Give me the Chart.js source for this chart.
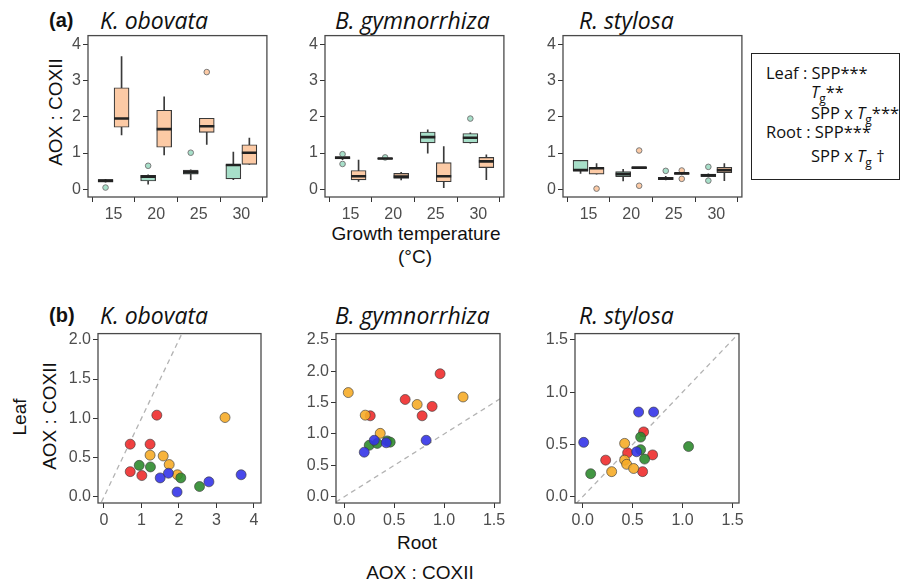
<!DOCTYPE html>
<html>
<head>
<meta charset="utf-8">
<script src="https://cdn.jsdelivr.net/npm/chart.js@4.4.1/dist/chart.umd.min.js"></script>
<style>
  body { margin: 0; background: #fff; }
  #fig { position: relative; width: 901px; height: 583px; overflow: hidden; background: #fff;
         font-family: "Liberation Sans", Arial, sans-serif; color: #111; }
  #fig canvas { position: absolute; }
  .txt { position: absolute; white-space: nowrap; line-height: 1; transform: translateY(-50%); }
  .ctr { transform: translate(-50%, -50%); }
  .rot { width: 200px; height: 20px; line-height: 20px; text-align: center; transform: rotate(-90deg); }
  .sp { font-family: "Open Sans", sans-serif; font-style: italic; font-size: 23px; }
  .tag { font-weight: bold; font-size: 20px; }
  .ax { font-size: 19px; }
  #legend { position: absolute; left: 751px; top: 53px; width: 147px; height: 125px; border: 1.5px solid #222; }
  .lg { font-family: "Open Sans", sans-serif; font-size: 16.5px; }
  .lg sub { font-size: 12px; vertical-align: baseline; position: relative; top: 0.4em; line-height: 0; }
</style>
</head>
<body>
<div id="fig">
  <div class="txt tag" style="left:49px; top:20px">(a)</div>
  <div class="txt sp" style="left:100px; top:20px">K. obovata</div>
  <div class="txt sp" style="left:335px; top:20px">B. gymnorrhiza</div>
  <div class="txt sp" style="left:579px; top:20px">R. stylosa</div>
  <div class="txt ax rot" style="left:-44px; top:102px">AOX : COXII</div>
  <div class="txt ax ctr" style="left:416px; top:233px">Growth temperature</div>
  <div class="txt ax ctr" style="left:415px; top:256px">(°C)</div>

  <div class="txt tag" style="left:49px; top:315px">(b)</div>
  <div class="txt sp" style="left:100px; top:315px">K. obovata</div>
  <div class="txt sp" style="left:335px; top:315px">B. gymnorrhiza</div>
  <div class="txt sp" style="left:579px; top:315px">R. stylosa</div>
  <div class="txt ax rot" style="left:-80px; top:407px">Leaf</div>
  <div class="txt ax rot" style="left:-50px; top:406px">AOX : COXII</div>
  <div class="txt ax ctr" style="left:417px; top:542px">Root</div>
  <div class="txt ax ctr" style="left:420px; top:572px">AOX : COXII</div>

  <div id="legend"></div>
  <div class="txt lg" style="left:766px; top:73px">Leaf : SPP***</div>
  <div class="txt lg" style="left:811px; top:92px"><i>T</i><sub>g</sub>**</div>
  <div class="txt lg" style="left:811px; top:113px">SPP x <i>T</i><sub>g</sub>***</div>
  <div class="txt lg" style="left:766px; top:132px">Root : SPP***</div>
  <div class="txt lg" style="left:811px; top:156px">SPP x <i>T</i><sub>g</sub> †</div>
</div>
<script>
// ---- (a) box plots: growth temperature vs AOX : COXII
const temps = [15, 20, 25, 30]
const boxTicksX = [15, 20, 25, 30]
const boxTicksY = [0, 1, 2, 3, 4]

// per temperature: [lower whisker, q1, median, q3, upper whisker]
const koLeaf = [[0.20, 0.20, 0.24, 0.27, 0.28], [0.14, 0.23, 0.35, 0.39, 0.40], [0.27, 0.42, 0.47, 0.53, 0.54], [0.27, 0.29, 0.67, 0.68, 1.03]]
const koRoot = [[1.50, 1.71, 1.95, 2.80, 3.66], [0.95, 1.16, 1.66, 2.18, 2.55], [1.24, 1.57, 1.74, 1.96, 1.96], [0.69, 0.69, 1.01, 1.23, 1.41]]
const koLeafOut = [[0.05], [0.65], [1.01], []]
const koRootOut = [[], [], [3.23], []]

const bgLeaf = [[0.82, 0.84, 0.87, 0.90, 0.91], [0.82, 0.83, 0.85, 0.86, 0.87], [1.00, 1.28, 1.44, 1.58, 1.64], [1.27, 1.28, 1.42, 1.54, 1.56]]
const bgRoot = [[0.22, 0.26, 0.36, 0.52, 0.81], [0.26, 0.30, 0.35, 0.44, 0.47], [0.05, 0.21, 0.36, 0.74, 1.18], [0.27, 0.60, 0.77, 0.88, 0.95]]
const bgLeafOut = [[0.97, 0.70], [0.88], [], [1.95]]
const bgRootOut = [[], [], [], []]

const rsLeaf = [[0.44, 0.51, 0.53, 0.80, 0.80], [0.23, 0.35, 0.42, 0.49, 0.55], [0.26, 0.27, 0.30, 0.33, 0.36], [0.34, 0.35, 0.39, 0.42, 0.43]]
const rsRoot = [[0.42, 0.42, 0.58, 0.60, 0.71], [0.58, 0.58, 0.60, 0.61, 0.61], [0.41, 0.42, 0.44, 0.45, 0.46], [0.24, 0.46, 0.53, 0.61, 0.71]]
const rsLeafOut = [[], [], [0.51], [0.62, 0.24]]
const rsRootOut = [[0.02], [0.10, 1.07], [0.29, 0.52], []]

// ---- (b) leaf vs root scatter, one list per growth temperature: [root, leaf]
const ko15 = [[1.50, 0.24], [1.72, 0.30], [1.95, 0.06], [2.80, 0.19], [3.66, 0.28]]
const ko20 = [[0.94, 0.40], [1.24, 0.38], [2.05, 0.24], [2.55, 0.13]]
const ko25 = [[3.23, 1.01], [1.23, 0.53], [1.58, 0.52], [1.74, 0.41], [1.96, 0.28]]
const ko30 = [[0.70, 0.67], [1.41, 1.04], [1.23, 0.67], [0.70, 0.32], [1.01, 0.27]]

const bg15 = [[0.20, 0.71], [0.30, 0.90], [0.42, 0.86], [0.82, 0.90]]
const bg20 = [[0.25, 0.82], [0.33, 0.85], [0.43, 0.89], [0.46, 0.87]]
const bg25 = [[0.04, 1.66], [0.21, 1.30], [0.36, 1.01], [0.73, 1.47], [1.19, 1.59]]
const bg30 = [[0.26, 1.29], [0.61, 1.55], [0.78, 1.29], [0.88, 1.44], [0.96, 1.96]]

const rs15 = [[0.01, 0.52], [0.56, 0.81], [0.71, 0.81], [0.54, 0.43]]
const rs20 = [[0.08, 0.22], [0.58, 0.57], [0.58, 0.45], [0.62, 0.36], [1.06, 0.48]]
const rs25 = [[0.42, 0.51], [0.42, 0.35], [0.44, 0.31], [0.29, 0.24], [0.51, 0.27]]
const rs30 = [[0.23, 0.35], [0.45, 0.42], [0.61, 0.62], [0.70, 0.40], [0.60, 0.24]]

const oneToOne = [[-1, -1], [5, 5]]

const leafFill = "#a7dfc9"
const rootFill = "#fccaa5"
const tempColors = ["rgba(52,52,232,0.9)", "rgba(46,139,46,0.9)", "rgba(246,172,40,0.9)", "rgba(238,44,44,0.9)"]
const dodge = 0.94

// frame around the plotting area (ggplot panel border)
const panelFrame = {
  id: "panelFrame",
  afterDraw(chart) {
    const { ctx, chartArea: a } = chart
    ctx.save()
    ctx.strokeStyle = "#4a4a4a"
    ctx.lineWidth = 1.3
    ctx.strokeRect(a.left, a.top, a.right - a.left, a.bottom - a.top)
    ctx.restore()
  }
}

function makeCanvas(rect) {
  const c = document.createElement("canvas")
  const w = rect.r - rect.l + 60
  const h = rect.b - rect.t + 45
  c.width = w
  c.height = h
  c.style.left = (rect.l - 50) + "px"
  c.style.top = (rect.t - 10) + "px"
  c.style.width = w + "px"
  c.style.height = h + "px"
  document.getElementById("fig").appendChild(c)
  return c
}

function axis(min, max, tickValues, fmt, isY) {
  return {
    type: "linear",
    min: min,
    max: max,
    offset: false,
    stacked: false,
    afterBuildTicks: s => { s.ticks = tickValues.map(v => ({ value: v })) },
    afterFit: s => { if (isY) s.width = 50; else s.height = 35 },
    border: { display: false },
    grid: { drawOnChartArea: false, drawTicks: true, tickLength: 5, color: "#333", lineWidth: 1 },
    ticks: {
      padding: isY ? 2 : 3,
      color: "#4d4d4d",
      font: { family: "'Liberation Sans', Arial, sans-serif", size: 16 },
      callback: v => fmt(v)
    }
  }
}

function boxSets(stats, outliers, side, fill) {
  const xs = temps.map(t => t + side * dodge)
  const outPts = []
  outliers.forEach((list, i) => list.forEach(v => outPts.push({ x: xs[i], y: v })))
  return [
    { type: "bar", order: 4, grouped: false, barThickness: 1, backgroundColor: "#3a3a3a",
      data: xs.map((x, i) => ({ x: x, y: [stats[i][0], stats[i][4]] })) },
    { type: "bar", order: 3, grouped: false, barThickness: 15, backgroundColor: fill,
      borderColor: "#3a3a3a", borderWidth: 1.2, borderSkipped: false,
      data: xs.map((x, i) => ({ x: x, y: [stats[i][1], stats[i][3]] })) },
    { type: "scatter", order: 1, pointStyle: "line", pointRadius: 7.5, borderColor: "#222", borderWidth: 2.6,
      data: xs.map((x, i) => ({ x: x, y: stats[i][2] })) },
    { type: "scatter", order: 2, pointRadius: 2.8, backgroundColor: fill, borderColor: "#7a7a7a", borderWidth: 1,
      data: outPts }
  ]
}

function boxPanel(rect, leaf, root, leafOut, rootOut) {
  new Chart(makeCanvas(rect), {
    type: "bar",
    data: { datasets: boxSets(leaf, leafOut, -1, leafFill).concat(boxSets(root, rootOut, 1, rootFill)) },
    options: {
      responsive: false,
      animation: false,
      layout: { padding: { top: 10, right: 10, left: 0, bottom: 0 } },
      plugins: { legend: { display: false }, tooltip: { enabled: false } },
      scales: {
        x: axis(12, 33, boxTicksX, v => String(v), false),
        y: axis(-0.21, 4.235, boxTicksY, v => String(v), true)
      }
    },
    plugins: [panelFrame]
  })
}

function scatterPanel(rect, groups, xr, yr, xt, yt) {
  const sets = groups.map((g, i) => ({
    data: g.map(p => ({ x: p[0], y: p[1] })),
    pointRadius: 5,
    backgroundColor: tempColors[i],
    borderColor: "rgba(60,60,60,0.8)",
    borderWidth: 0.8
  }))
  sets.unshift({
    data: oneToOne.map(p => ({ x: p[0], y: p[1] })),
    showLine: true,
    pointRadius: 0,
    borderColor: "#b3b3b3",
    borderWidth: 1.3,
    borderDash: [5, 4],
    order: 10
  })
  new Chart(makeCanvas(rect), {
    type: "scatter",
    data: { datasets: sets },
    options: {
      responsive: false,
      animation: false,
      layout: { padding: { top: 10, right: 10, left: 0, bottom: 0 } },
      plugins: { legend: { display: false }, tooltip: { enabled: false } },
      scales: {
        x: axis(xr[0], xr[1], xt, v => (Number.isInteger(xt[1]) ? String(v) : v.toFixed(1)), false),
        y: axis(yr[0], yr[1], yt, v => v.toFixed(1), true)
      }
    },
    plugins: [panelFrame]
  })
}

boxPanel({ l: 88, t: 34, r: 267, b: 197 }, koLeaf, koRoot, koLeafOut, koRootOut)
boxPanel({ l: 325, t: 34, r: 504, b: 197 }, bgLeaf, bgRoot, bgLeafOut, bgRootOut)
boxPanel({ l: 563, t: 34, r: 742, b: 197 }, rsLeaf, rsRoot, rsLeafOut, rsRootOut)

scatterPanel({ l: 98, t: 332, r: 261, b: 503 }, [ko15, ko20, ko25, ko30], [-0.16, 4.19], [-0.08, 2.08], [0, 1, 2, 3, 4], [0, 0.5, 1, 1.5, 2])
scatterPanel({ l: 336, t: 332, r: 500, b: 503 }, [bg15, bg20, bg25, bg30], [-0.083, 1.56], [-0.1, 2.6], [0, 0.5, 1, 1.5], [0, 0.5, 1, 1.5, 2, 2.5])
scatterPanel({ l: 575, t: 332, r: 739, b: 503 }, [rs15, rs20, rs25, rs30], [-0.077, 1.565], [-0.06, 1.56], [0, 0.5, 1, 1.5], [0, 0.5, 1, 1.5])
</script>
</body>
</html>
